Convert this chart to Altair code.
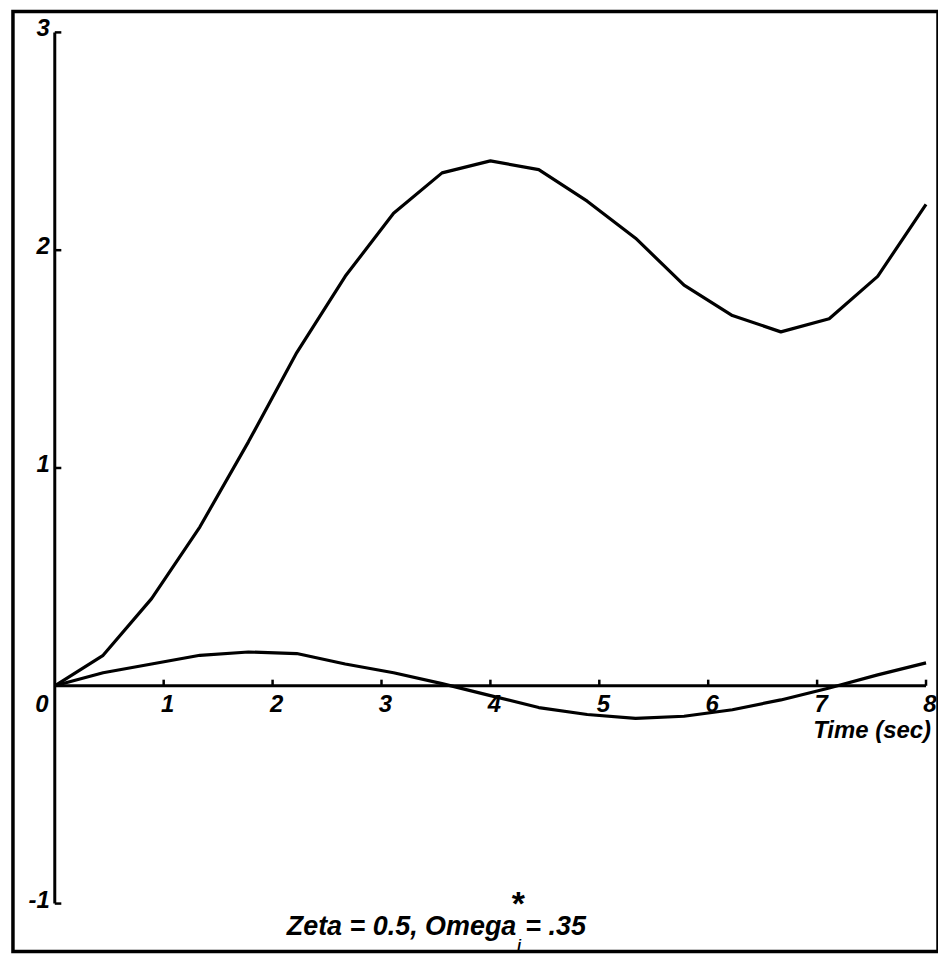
import altair as alt
import pandas as pd

# ---- data ----
time = [0, 0.444, 0.889, 1.333, 1.778, 2.222, 2.667, 3.111, 3.556, 4.0,
        4.444, 4.889, 5.333, 5.778, 6.222, 6.667, 7.111, 7.556, 8.0]
upper = [0, 0.14, 0.40, 0.73, 1.12, 1.53, 1.88, 2.17, 2.355, 2.41,
         2.37, 2.225, 2.055, 1.84, 1.70, 1.625, 1.685, 1.88, 2.21]
lower = [0, 0.06, 0.10, 0.14, 0.155, 0.148, 0.10, 0.06, 0.01, -0.045,
         -0.10, -0.132, -0.15, -0.14, -0.11, -0.065, -0.01, 0.05, 0.105]

x_ticks = [1, 2, 3, 4, 5, 6, 7, 8]
x_tick_labels = ["1", "2", "3", "4", "5", "6", "7", "8"]
y_ticks = [3, 2, 1, -1]
y_tick_labels = ["3", "2", "1", "-1"]
x_title = "Time (sec)"
caption_left = "Zeta = 0.5, Omega"
caption_right = "= .35"

# ---- tables ----
curves = pd.DataFrame(
    {"t": time * 2, "v": upper + lower,
     "series": ["upper"] * len(time) + ["lower"] * len(time)}
)

X = alt.Scale(domain=[-0.384, 8.11], nice=False, zero=False)
Y = alt.Scale(domain=[-1.22, 3.096], nice=False, zero=False)
FONT = "Liberation Sans"

base = alt.Chart(curves)

lines = base.mark_line(color="black", strokeWidth=3.2, strokeJoin="round").encode(
    x=alt.X("t:Q", scale=X, axis=None),
    y=alt.Y("v:Q", scale=Y, axis=None),
    detail="series:N",
)

axes_df = pd.DataFrame({"x": [0, 0], "y": [-1, 0], "x2": [0, 8], "y2": [3, 0]})
axis_lines = alt.Chart(axes_df).mark_rule(color="black", strokeWidth=3).encode(
    x=alt.X("x:Q", scale=X, axis=None), x2="x2:Q",
    y=alt.Y("y:Q", scale=Y, axis=None), y2="y2:Q",
)

xt_df = pd.DataFrame({"x": x_ticks, "lab": x_tick_labels})
x_tick_marks = alt.Chart(xt_df).mark_rule(color="black", strokeWidth=2.5).encode(
    x=alt.X("x:Q", scale=X, axis=None),
    y=alt.Y("y0:Q", scale=Y, axis=None), y2="y1:Q",
).transform_calculate(y0="0", y1="0.028")

x_tick_text = alt.Chart(xt_df).mark_text(
    font=FONT, fontSize=24, fontWeight="bold", fontStyle="italic",
    baseline="middle", align="center", dx=4, dy=19,
).encode(
    x=alt.X("x:Q", scale=X, axis=None),
    y=alt.Y("y0:Q", scale=Y, axis=None),
    text="lab:N",
).transform_calculate(y0="0")

yt_df = pd.DataFrame({"y": y_ticks, "lab": y_tick_labels})
y_tick_marks = alt.Chart(yt_df).mark_rule(color="black", strokeWidth=2.5).encode(
    x=alt.X("x0:Q", scale=X, axis=None), x2="x1:Q",
    y=alt.Y("y:Q", scale=Y, axis=None),
).transform_calculate(x0="0", x1="0.06")

y_tick_text = alt.Chart(yt_df).mark_text(
    font=FONT, fontSize=24, fontWeight="bold", fontStyle="italic",
    baseline="middle", align="right", dx=-5, dy=-3,
).encode(
    x=alt.X("x0:Q", scale=X, axis=None),
    y=alt.Y("y:Q", scale=Y, axis=None),
    text="lab:N",
).transform_calculate(x0="0")

zero_df = pd.DataFrame({"x": [0], "y": [0], "lab": ["0"]})
zero_text = alt.Chart(zero_df).mark_text(
    font=FONT, fontSize=24, fontWeight="bold", fontStyle="italic",
    baseline="middle", align="center", dx=-13, dy=19,
).encode(
    x=alt.X("x:Q", scale=X, axis=None),
    y=alt.Y("y:Q", scale=Y, axis=None),
    text="lab:N",
)

xtitle_df = pd.DataFrame({"x": [8], "y": [0], "lab": [x_title]})
xtitle_text = alt.Chart(xtitle_df).mark_text(
    font=FONT, fontSize=24, fontWeight="bold", fontStyle="italic",
    baseline="alphabetic", align="right", dx=5, dy=52,
).encode(
    x=alt.X("x:Q", scale=X, axis=None),
    y=alt.Y("y:Q", scale=Y, axis=None),
    text="lab:N",
)

cap_df = pd.DataFrame({"x": [4.0], "y": [-1.0], "l": [caption_left], "r": [caption_right]})
cap_left = alt.Chart(cap_df).mark_text(
    font=FONT, fontSize=27, fontWeight="bold", fontStyle="italic",
    baseline="alphabetic", align="right", dx=26, dy=32,
).encode(
    x=alt.X("x:Q", scale=X, axis=None),
    y=alt.Y("y:Q", scale=Y, axis=None),
    text="l:N",
)
cap_right = alt.Chart(cap_df).mark_text(
    font=FONT, fontSize=27, fontWeight="bold", fontStyle="italic",
    baseline="alphabetic", align="left", dx=35, dy=32,
).encode(
    x=alt.X("x:Q", scale=X, axis=None),
    y=alt.Y("y:Q", scale=Y, axis=None),
    text="r:N",
)
cap_star = alt.Chart(cap_df).mark_text(
    font=FONT, fontSize=34, fontWeight="bold",
    baseline="middle", align="center", dx=28, dy=1,
).encode(
    x=alt.X("x:Q", scale=X, axis=None),
    y=alt.Y("y:Q", scale=Y, axis=None),
    text=alt.value("*"),
)
cap_sub = alt.Chart(cap_df).mark_text(
    font=FONT, fontSize=14, fontWeight="bold", fontStyle="italic",
    baseline="alphabetic", align="center", dx=29, dy=47,
).encode(
    x=alt.X("x:Q", scale=X, axis=None),
    y=alt.Y("y:Q", scale=Y, axis=None),
    text=alt.value("i"),
)

chart = alt.layer(
    axis_lines, x_tick_marks, y_tick_marks, lines,
    x_tick_text, y_tick_text, zero_text, xtitle_text,
    cap_left, cap_right, cap_star, cap_sub,
).properties(
    width=928, height=943,
    padding={"left": 13, "top": 10, "right": 0, "bottom": 2},
    autosize=alt.AutoSizeParams(type="none"),
    background="white",
).configure_view(stroke="black", strokeWidth=3.5)

chart.save("out.html", embed_options={"renderer": "svg", "actions": False})
